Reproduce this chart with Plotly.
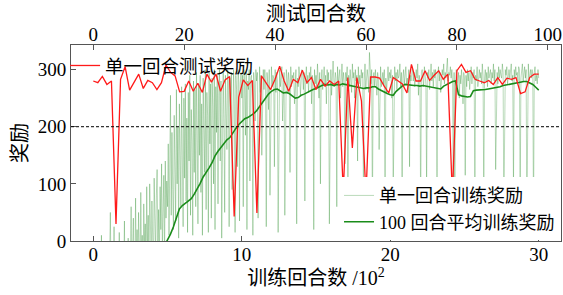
import numpy as np
import plotly.graph_objects as go

# ---------------- data ----------------
# single-episode test reward, test episodes 0..98 (top axis)
test_reward = [
    280, 277, 288, 274, 280, 30, 283, 305, 264, 277,
    292, 267, 281, 277, 265, 277, 308, 295, 289, 261,
    262, 280, 262, 276, 260, 292, 278, 292, 262, 282,
    288, 43, 252, 282, 272, 281, 49, 289, 277, 265,
    283, 306, 280, 262, 283, 277, 299, 277, 286, 265,
    283, 271, 280, 274, 280, 85, 286, 163, 286, 245,
    80, 287, 287, 285, 271, 259, 286, 281, 275, 259,
    309, 280, 280, 298, 281, 290, 298, 283, 292, 80,
    298, 309, 295, 298, 283, 280, 277, 281, 274, 286,
    274, 285, 283, 286, 258, 261, 286, 292, 292,
]
test_episode = list(range(len(test_reward)))

# single-episode training reward, sampled every 5 training episodes (x in units of 100 episodes)
train_step = 5
train_reward = [
    -180, -120, -230, -90, -160, -200, -75, -140, -250, -110,
    -60, 10, -150, -95, -210, -130, -45, -170, -100, -220,
    -85, -140, -30, 50, -120, -190, -70, -110, 25, -160,
    -90, -45, -135, -200, -60, 15, -115, -80, -170, -40,
    -100, -55, 35, -150, -20, -90, -125, 5, -65, -140,
    -30, 60, -85, -10, 40, -120, -45, 75, -60, 20,
    -95, 50, -20, -70, 85, -35, 10, -110, 65, -15,
    30, -55, 95, -25, 45, -80, 100, 0, -40, 70,
    15, -60, 110, 35, -25, 80, 125, -5, 55, -45,
    95, 20, 135, -15, 70, 115, -30, 140, 40, 105,
    60, 170, 10, 130, 255, 45, 190, 90, 20, 220,
    150, 35, 265, 100, 200, 5, 240, 130, 60, 270,
    180, 25, 250, 110, 275, 70, 215, 15, 260, 140,
    290, 45, 230, 175, 10, 280, 120, 265, 60, 295,
    200, 30, 275, 150, 290, 85, 240, 10, 285, 190,
    120, 300, 55, 260, 220, 15, 295, 170, 275, 40,
    285, 235, 100, 300, 20, 270, 190, 290, 65, 255,
    300, 140, 280, 5, 265, 295, 210, 50, 290, 245,
    160, 300, 275, 25, 285, 230, 295, 90, 270, 300,
    240, 15, 290, 265, 130, 300, 280, 35, 275, 295,
    250, 290, 60, 300, 270, 185, 295, 20, 280, 265,
    300, 105, 285, 290, 250, 10, 295, 275, 210, 300,
    280, 295, 40, 270, 305, 260, 290, 150, 285, 300,
    265, 300, 280, 25, 295, 275, 230, 300, 80, 290,
    305, 270, 290, 285, 130, 300, 260, 295, 280, 15,
    290, 300, 270, 285, 305, 210, 280, 295, 45, 275,
    300, 285, 260, 295, 280, 120, 305, 270, 290, 285,
    295, 240, 280, 300, 30, 285, 270, 305, 290, 255,
    280, 300, 290, 265, 295, 70, 285, 305, 275, 290,
    260, 295, 285, 305, 240, 290, 280, 20, 300, 275,
    290, 270, 310, 285, 250, 295, 100, 280, 300, 265,
    285, 305, 275, 290, 240, 300, 280, 295, 30, 270,
    300, 255, 290, 315, 280, 270, 295, 285, 60, 305,
    275, 290, 300, 250, 285, 310, 270, 295, 280, 135,
    295, 280, 305, 20, 290, 270, 300, 285, 260, 310,
    285, 295, 250, 300, 280, 290, 140, 305, 275, 290,
    270, 300, 285, 295, 45, 280, 310, 265, 290, 300,
    285, 260, 330, 290, 275, 300, 35, 285, 295, 270,
    300, 280, 255, 295, 285, 160, 290, 305, 270, 285,
    295, 275, 300, 25, 285, 260, 290, 305, 280, 295,
    285, 300, 250, 290, 85, 275, 305, 280, 295, 265,
    300, 285, 290, 310, 270, 295, 40, 285, 300, 275,
    290, 305, 275, 285, 260, 300, 130, 290, 280, 295,
    305, 280, 295, 270, 290, 300, 285, 310, 255, 290,
    280, 45, 295, 300, 285, 270, 305, 290, 275, 95,
    295, 285, 300, 265, 290, 310, 280, 295, 270, 300,
    285, 300, 275, 55, 290, 305, 280, 295, 260, 285,
    300, 290, 310, 275, 295, 285, 300, 320, 280, 295,
    290, 305, 285, 300, 275, 35, 295, 60, 280, 300,
    270, 285, 295, 250, 290, 275, 300, 280, 240, 295,
    285, 115, 290, 270, 300, 280, 295, 265, 285, 305,
    275, 295, 285, 300, 80, 290, 280, 305, 270, 295,
    300, 285, 295, 275, 310, 290, 65, 285, 300, 280,
    295, 270, 305, 285, 290, 300, 275, 295, 285, 310,
    280, 300, 125, 290, 295, 275, 305, 285, 300, 290,
    285, 310, 295, 50, 280, 300, 290, 305, 275, 295,
    300, 285, 295, 310, 280, 290, 95, 300, 285, 305,
    290, 295, 280, 305, 300, 55, 285, 295, 310, 280,
    295, 305, 285, 300, 45, 290, 310, 280, 295, 300,
    285, 300, 290, 30, 295, 305, 280, 290, 275, 300,
    285,
]

# 100-episode moving average of training reward, from episode 480 every 20 episodes
avg_start, avg_step = 480, 20
avg_reward = [
    -8, 2, 12, 25, 42, 56, 62, 66, 70, 74,
    82, 91, 101, 112, 119, 128, 137, 149, 157, 164,
    172, 177, 181, 190, 197, 204, 210, 214, 216, 219,
    223, 228, 235, 243, 251, 257, 262, 265, 266, 262,
    259, 260, 258, 254, 250, 251, 255, 257, 260, 262,
    265, 267, 270, 272, 274, 273, 274, 272, 274, 273,
    275, 274, 272, 271, 270, 269, 268, 267, 268, 268,
    270, 270, 266, 263, 260, 258, 256, 255, 262, 267,
    271, 274, 273, 273, 272, 272, 271, 272, 271, 270,
    269, 268, 266, 266, 271, 274, 277, 279, 280, 256,
    254, 253, 252, 253, 263, 264, 264, 265, 265, 266,
    267, 267, 269, 270, 272, 273, 274, 276, 277, 278,
    278, 279, 279, 277, 274, 269, 264,
]

threshold = 200

x_ticks_bottom = [0, 10, 20, 30]
x_ticks_top = [0, 20, 40, 60, 80, 100]
y_ticks = [0, 100, 200, 300]

train_x = np.arange(len(train_reward)) * train_step / 100.0
avg_x = (avg_start + np.arange(len(avg_reward)) * avg_step) / 100.0

# ---------------- figure ----------------
FONT = "Liberation Serif, Times New Roman, Noto Sans CJK SC"
AXC = "#555555"

fig = go.Figure()
fig.add_trace(go.Scatter(
    x=train_x, y=train_reward, mode="lines", name="单一回合训练奖励",
    line=dict(color="rgba(40,140,40,0.32)", width=1), legend="legend2",
    xaxis="x", yaxis="y"))
fig.add_trace(go.Scatter(
    x=avg_x, y=avg_reward, mode="lines", name="100 回合平均训练奖励",
    line=dict(color="#1a8c1a", width=1.6), legend="legend2",
    xaxis="x", yaxis="y"))
fig.add_trace(go.Scatter(
    x=test_episode, y=test_reward, mode="lines", name="单一回合测试奖励",
    line=dict(color="#ff1a1a", width=1.3), legend="legend",
    xaxis="x2", yaxis="y"))

fig.add_shape(type="line", xref="paper", x0=0, x1=1, yref="y", y0=threshold, y1=threshold,
              line=dict(color="black", width=1, dash="3px,2px"))

# top axis title (placed as annotation for exact vertical position)
fig.add_annotation(text="测试回合数", xref="paper", yref="paper", x=0.5, y=1.158,
                   xanchor="center", yanchor="middle", showarrow=False,
                   font=dict(family=FONT, size=20, color="black"))

axis_common = dict(showline=True, linecolor=AXC, linewidth=1, ticks="inside", ticklen=5,
                   tickcolor=AXC, showgrid=False, zeroline=False, automargin=False,
                   tickfont=dict(family=FONT, size=19, color="black"))

fig.update_layout(
    width=563, height=295,
    margin=dict(l=71, r=2, t=45, b=54),
    plot_bgcolor="white", paper_bgcolor="white",
    showlegend=True,
    font=dict(family=FONT, size=19, color="black"),
    xaxis=dict(range=[-1.5, 31.5], tickvals=x_ticks_bottom, ticklabelstandoff=-4, **axis_common,
               title=dict(text="训练回合数 /10<sup>2</sup>", font=dict(family=FONT, size=20), standoff=0)),
    xaxis2=dict(range=[-4.9, 102.9], tickvals=x_ticks_top, overlaying="x", side="top",
                anchor="y", ticklabelstandoff=-5, **axis_common),
    yaxis=dict(range=[0, 343], tickvals=y_ticks, mirror=True, **axis_common,
               title=dict(text="奖励", font=dict(family=FONT, size=20), standoff=4)),
    legend=dict(x=-0.012, y=0.99, xanchor="left", yanchor="top", bgcolor="rgba(255,255,255,0)",
                font=dict(family=FONT, size=18.5), borderwidth=0, itemwidth=30,
                tracegroupgap=0),
    legend2=dict(x=0.998, y=0.004, xanchor="right", yanchor="bottom", bgcolor="white",
                 font=dict(family=FONT, size=18), borderwidth=0, itemwidth=30,
                 tracegroupgap=0),
)

fig.write_html("out.html", config={"displayModeBar": False},
               post_script="document.body.style.margin='0';document.body.style.padding='0';")
